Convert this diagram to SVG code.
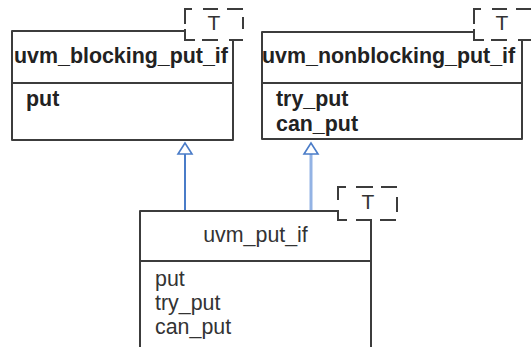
<svg xmlns="http://www.w3.org/2000/svg" width="531" height="347" viewBox="0 0 531 347">
<style>
.box{fill:none;stroke:#3c3c3c;stroke-width:2;stroke-linejoin:round}
.tpl{fill:none;stroke:#3c3c3c;stroke-width:2}
.b{font-family:"Liberation Sans",Arial,sans-serif;font-weight:bold;font-size:21.4px;fill:#222}
.r{font-family:"Liberation Sans",Arial,sans-serif;font-size:21.4px;fill:#333}
.t{font-family:"Liberation Sans",Arial,sans-serif;font-size:21px;fill:#333;text-anchor:middle}
.c1{stroke:#4a7cc8;stroke-width:2;fill:none}
.c2{stroke:#93b3e4;stroke-width:3;fill:none}
.head{fill:#fff;stroke:#4a7cc8;stroke-width:1.6}
</style>
<rect width="531" height="347" fill="#fff"/>
<g id="connectors">
<line class="c1" x1="185" y1="211" x2="185" y2="154"/>
<path class="head" d="M185,143 L178,154 L192,154 Z"/>
<line class="c2" x1="311" y1="211" x2="311" y2="154"/>
<path class="head" d="M311,143 L304,154 L318,154 Z"/>
</g>
<g id="uvm_blocking_put_if">
<path class="box" d="M185,31 H12 V140 H233 V40"/>
<line class="box" x1="12" y1="83" x2="233" y2="83"/>
<path class="tpl" d="M185,24 V9 H192 M203,9 H218 M227,9 H243 M243,17 V29 M229,40 H243 M202,40 H218 M185,29 V40 H195"/>
<text class="t" x="214" y="30">T</text>
<text class="b" x="14" y="63">uvm_blocking_put_if</text>
<text class="b" x="26" y="106">put</text>
</g>
<g id="uvm_nonblocking_put_if">
<path class="box" d="M474,32 H262 V139 H522 V40"/>
<line class="box" x1="262" y1="83" x2="522" y2="83"/>
<path class="tpl" d="M474,24 V9 H481 M492,9 H507 M516,9 H532 M474,29 V40 H484 M491,40 H507 M518,40 H532"/>
<text class="t" x="502" y="30">T</text>
<text class="b" x="262" y="63">uvm_nonblocking_put_if</text>
<text class="b" x="276" y="106">try_put</text>
<text class="b" x="276" y="131">can_put</text>
</g>
<g id="uvm_put_if">
<path class="box" d="M338,211 H140 V350 M371,220 V350"/>
<line class="box" x1="140" y1="261" x2="371" y2="261"/>
<path class="tpl" d="M338,200 V187 H346 M356,187 H373 M381,187 H397 M397,197 V212 M380,220 H396 M356,220 H372 M338,210 V220 H347"/>
<text class="t" x="368" y="209">T</text>
<text class="r" x="255.5" y="242" text-anchor="middle">uvm_put_if</text>
<text class="r" x="155" y="286">put</text>
<text class="r" x="155" y="310">try_put</text>
<text class="r" x="155" y="334">can_put</text>
</g>
</svg>
